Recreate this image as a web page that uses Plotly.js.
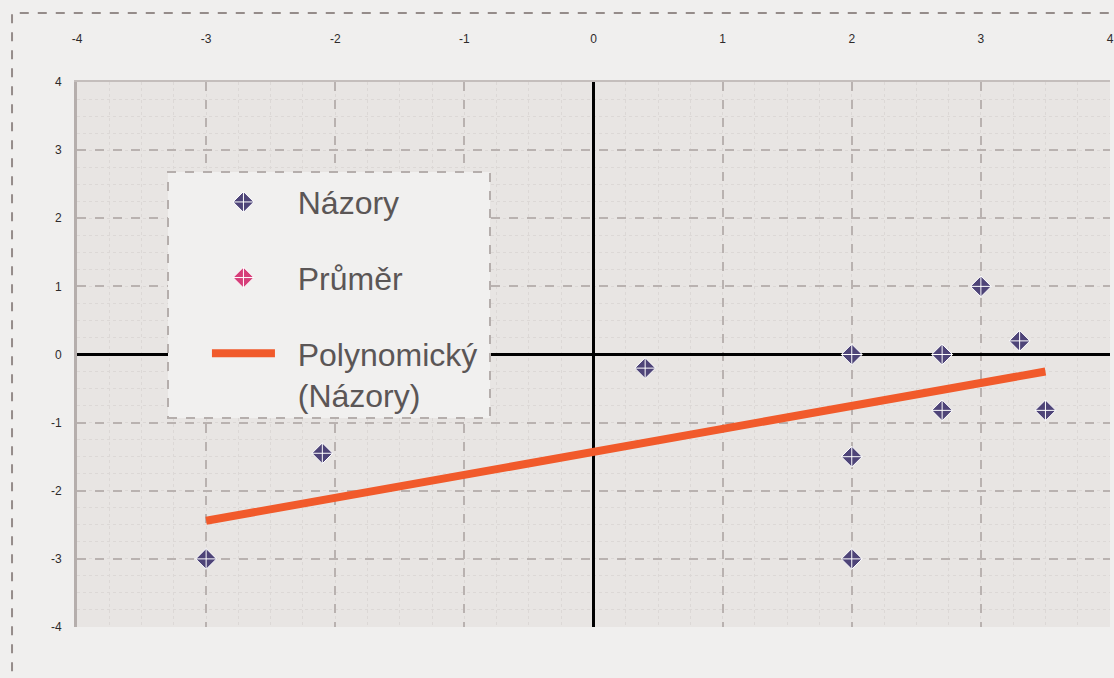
<!DOCTYPE html>
<html>
<head>
<meta charset="utf-8">
<script src="https://cdn.plot.ly/plotly-3.0.1.min.js"></script>
<style>html,body{margin:0;padding:0;background:#F0EFEE;}</style>
</head>
<body>
<div id="chart" style="width:1114px;height:678px;"></div>
<script>
// Názory (opinions) scatter points
const nazoryX = [-3, -2.1, 0.4, 2, 2, 2, 2.7, 2.7, 3, 3.3, 3.5];
const nazoryY = [-3, -1.45, -0.2, 0, -1.5, -3, 0, -0.82, 1, 0.2, -0.82];
// Průměr (mean) - no visible point in the picture, only its legend entry
const prumerX = [null];
const prumerY = [null];
// Polynomický (Názory) trend line
const trendX = [-3, -2, -1, 0, 1, 2, 3, 3.5];
const trendY = [-2.44, -2.1, -1.77, -1.43, -1.09, -0.75, -0.42, -0.25];
// tick values
const tickVals = [-4, -3, -2, -1, 0, 1, 2, 3, 4];
const tickText = ['-4', '-3', '-2', '-1', '0', '1', '2', '3', '4'];
const seriesNames = ['Názory', 'Průměr', 'Polynomický', '(Názory)'];

const pad = '\u00a0\u00a0';

const traces = [
  {
    x: nazoryX, y: nazoryY, type: 'scatter', mode: 'markers', name: pad + seriesNames[0],
    legendgroup: 'a', legendrank: 1,
    marker: {symbol: 'diamond-cross', size: 16, color: '#4E4478', line: {color: '#FFFFFF', width: 1}}
  },
  {
    x: prumerX, y: prumerY, type: 'scatter', mode: 'markers', name: pad + seriesNames[1],
    legendgroup: 'b', legendrank: 2,
    marker: {symbol: 'diamond-cross', size: 16, color: '#D63E79', line: {color: '#FFFFFF', width: 1}}
  },
  {
    x: trendX, y: trendY, type: 'scatter', mode: 'lines',
    name: pad + seriesNames[2] + '<br>' + pad + seriesNames[3],
    legendgroup: 'c', legendrank: 3,
    line: {color: '#F15A2B', width: 8}
  }
];

const layout = {
  width: 1114, height: 678,
  margin: {l: 77, r: 4, t: 82, b: 51},
  paper_bgcolor: '#F0EFEE',
  plot_bgcolor: '#E8E5E3',
  font: {family: '"Liberation Sans", Arial, sans-serif', color: '#333333'},
  showlegend: true,
  xaxis: {
    range: [-4, 4], side: 'top', tickvals: tickVals, ticktext: tickText,
    showgrid: true, gridcolor: '#B9B2B0', gridwidth: 2, griddash: 'dash',
    zeroline: true, zerolinecolor: '#000000', zerolinewidth: 3,
    showline: true, linecolor: '#C4BEBC', linewidth: 2,
    ticks: '', ticklabelstandoff: 32,
    tickfont: {size: 12, color: '#2E2A2A'},
    minor: {dtick: 0.25, showgrid: true, gridcolor: '#DCD8D6', griddash: 'dot', gridwidth: 1},
    fixedrange: true
  },
  yaxis: {
    range: [-4, 4], tickvals: tickVals, ticktext: tickText,
    showgrid: true, gridcolor: '#B9B2B0', gridwidth: 2, griddash: 'dash',
    zeroline: true, zerolinecolor: '#000000', zerolinewidth: 3,
    showline: true, linecolor: '#B5AEAC', linewidth: 3,
    ticks: '', ticklabelstandoff: 10,
    tickfont: {size: 12, color: '#2E2A2A'},
    minor: {dtick: 0.25, showgrid: true, gridcolor: '#DCD8D6', griddash: 'dot', gridwidth: 1},
    fixedrange: true
  },
  legend: {
    x: 0.1258, y: 0.83, xanchor: 'left', yanchor: 'top',
    bgcolor: 'rgba(0,0,0,0)', borderwidth: 0,
    font: {size: 32, color: '#5B5656', family: '"Liberation Sans", Arial, sans-serif'},
    tracegroupgap: 31, itemwidth: 63, traceorder: 'grouped', valign: 'top'
  },
  shapes: [
    {type: 'rect', xref: 'paper', yref: 'paper', x0: -0.0629, x1: 1.05, y0: -0.3, y1: 1.1266,
     line: {color: '#958C8A', width: 2, dash: 'dash'}, layer: 'below'},
    {type: 'rect', xref: 'paper', yref: 'paper', x0: 0.0881, x1: 0.3998, y0: 0.3835, y1: 0.8349,
     fillcolor: '#F1F0EF', line: {color: '#B5AEAC', width: 2, dash: 'dash'}, layer: 'above'}
  ]
};

Plotly.newPlot('chart', traces, layout, {displayModeBar: false, staticPlot: true});
</script>
</body>
</html>
